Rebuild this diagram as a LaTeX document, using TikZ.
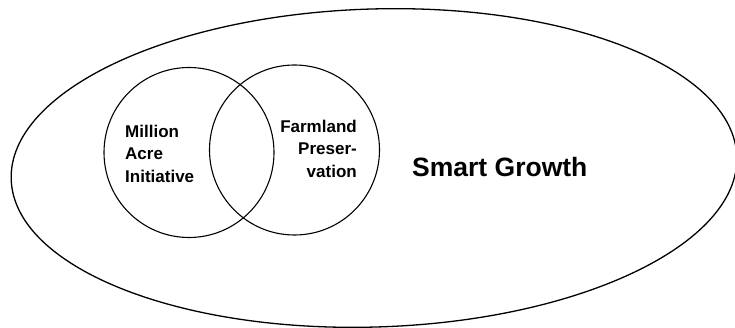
\documentclass[tikz,border=0pt]{standalone}
\usepackage{fontspec}
\setmainfont{Liberation Sans}
\usetikzlibrary{shapes.geometric}
\begin{document}
\begin{tikzpicture}[x=1pt,y=-1pt,
  lbl/.style={font=\bfseries\fontsize{17}{22.5}\selectfont, inner sep=0pt},
  setc/.style={draw, circle, line width=1.1pt, minimum size=170pt, inner sep=0pt}]
\useasboundingbox (0,0) rectangle (735,328);
\node[draw, ellipse, line width=1.3pt, minimum width=726pt, minimum height=318pt, inner sep=0pt, rotate=1.8] (sg) at (374,168) {};
\node[setc] (mai) at (189,152.5) {};
\node[setc] (fp) at (294.5,150) {};
\node[lbl, align=left, anchor=north west] (maitxt) at (125,124.5) {Million\\Acre\\Initiative};
\node[lbl, align=right, anchor=north east] (fptxt) at (357,119.5) {Farmland\\Preser-\\vation};
\node[font=\bfseries\fontsize{26.5}{30}\selectfont, inner sep=0pt, anchor=base west] (sgtxt) at (412,177) {Smart Growth};
\end{tikzpicture}
\end{document}
